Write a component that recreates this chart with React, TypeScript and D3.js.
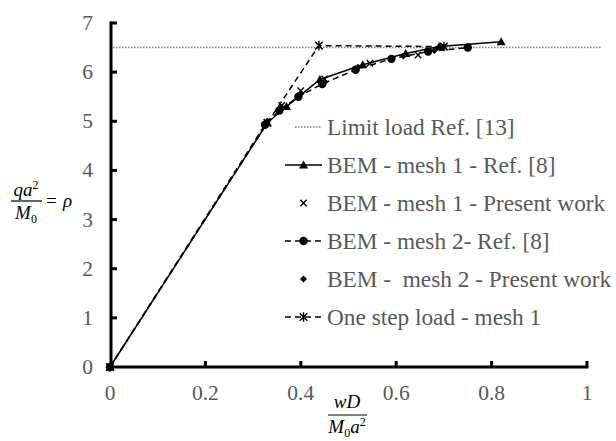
import React from "react";
import * as d3 from "d3";

const xTicks = [0, 0.2, 0.4, 0.6, 0.8, 1];
const yTicks = [0, 1, 2, 3, 4, 5, 6, 7];
const xTickLabels = ["0", "0.2", "0.4", "0.6", "0.8", "1"];

const limitX = [0, 1.03];
const limitY = [6.5, 6.5];

const mesh1RefX = [0, 0.33, 0.37, 0.44, 0.53, 0.62, 0.69, 0.82];
const mesh1RefY = [0, 4.97, 5.3, 5.85, 6.15, 6.38, 6.52, 6.62];

const mesh1PresX = [0.33, 0.36, 0.40, 0.45, 0.545, 0.646, 0.70];
const mesh1PresY = [4.97, 5.32, 5.62, 5.86, 6.18, 6.35, 6.52];

const mesh2RefX = [0, 0.325, 0.355, 0.395, 0.445, 0.515, 0.59, 0.667, 0.75];
const mesh2RefY = [0, 4.93, 5.22, 5.5, 5.76, 6.05, 6.27, 6.42, 6.5];

const mesh2PresX = [0.33, 0.36, 0.40, 0.45, 0.52, 0.615, 0.68];
const mesh2PresY = [5.0, 5.28, 5.56, 5.8, 6.1, 6.33, 6.44];

const oneStepX = [0, 0.33, 0.438, 0.70];
const oneStepY = [0, 4.97, 6.54, 6.52];

const legendLabels = [
  "Limit load Ref. [13]",
  "BEM - mesh 1 - Ref. [8]",
  "BEM - mesh 1 - Present work",
  "BEM - mesh 2- Ref. [8]",
  "BEM -  mesh 2 - Present work",
  "One step load - mesh 1",
];

const GRAY = "#595959";
const SERIF = "Liberation Serif, Times New Roman, Times, serif";

function zip(xs: number[], ys: number[]): [number, number][] {
  return xs.map((x, i) => [x, ys[i]]);
}

function Tri({ x, y }: { x: number; y: number }) {
  return <path d={`M${x},${y - 4.5}L${x + 4.5},${y + 3.5}L${x - 4.5},${y + 3.5}Z`} fill="#000" />;
}
function Cross({ x, y }: { x: number; y: number }) {
  const s = 3.2;
  return (
    <path d={`M${x - s},${y - s}L${x + s},${y + s}M${x - s},${y + s}L${x + s},${y - s}`} stroke="#000" strokeWidth={1.4} />
  );
}
function Dot({ x, y }: { x: number; y: number }) {
  return <circle cx={x} cy={y} r={4.2} fill="#000" />;
}
function Diamond({ x, y }: { x: number; y: number }) {
  const s = 3.5;
  return <path d={`M${x},${y - s}L${x + s},${y}L${x},${y + s}L${x - s},${y}Z`} fill="#000" />;
}
function Star({ x, y }: { x: number; y: number }) {
  const s = 3.8;
  return (
    <path
      d={`M${x - s},${y - s}L${x + s},${y + s}M${x - s},${y + s}L${x + s},${y - s}M${x},${y - s - 1}L${x},${y + s + 1}`}
      stroke="#000"
      strokeWidth={1.4}
    />
  );
}

export default function App() {
  const W = 616;
  const H = 441;
  const x = d3.scaleLinear().domain([0, 1]).range([110, 587]);
  const y = d3.scaleLinear().domain([0, 7]).range([367, 23]);
  const line = d3
    .line<[number, number]>()
    .x((d) => x(d[0]))
    .y((d) => y(d[1]));

  const legX0 = 285;
  const legX1 = 322;
  const legTextX = 327;
  const legY0 = 127;
  const legDy = 38;

  return (
    <svg width={W} height={H} style={{ position: "absolute", left: 0, top: 0, background: "#fff" }}>
      <rect width={W} height={H} fill="#fff" />
      {/* limit load */}
      <path d={line(zip(limitX, limitY)) || ""} fill="none" stroke="#7f7f7f" strokeWidth={1.5} strokeDasharray="1.5,1.5" />

      {/* one step */}
      <path d={line(zip(oneStepX, oneStepY)) || ""} fill="none" stroke="#000" strokeWidth={1.5} strokeDasharray="6,4" />
      {zip(oneStepX, oneStepY).map((d, i) => (
        <Star key={"s" + i} x={x(d[0])} y={y(d[1])} />
      ))}

      {/* mesh 2 ref */}
      <path d={line(zip(mesh2RefX, mesh2RefY)) || ""} fill="none" stroke="#000" strokeWidth={1.5} strokeDasharray="6,4" />
      {zip(mesh2RefX, mesh2RefY).map((d, i) => (
        <Dot key={"c" + i} x={x(d[0])} y={y(d[1])} />
      ))}

      {/* mesh 1 ref */}
      <path d={line(zip(mesh1RefX, mesh1RefY)) || ""} fill="none" stroke="#000" strokeWidth={1.5} />
      {zip(mesh1RefX, mesh1RefY).map((d, i) => (
        <Tri key={"t" + i} x={x(d[0])} y={y(d[1])} />
      ))}

      {zip(mesh1PresX, mesh1PresY).map((d, i) => (
        <Cross key={"x" + i} x={x(d[0])} y={y(d[1])} />
      ))}
      {zip(mesh2PresX, mesh2PresY).map((d, i) => (
        <Diamond key={"d" + i} x={x(d[0])} y={y(d[1])} />
      ))}

      {/* axes */}
      <line x1={x(0)} x2={x(1) + 1.5} y1={y(0)} y2={y(0)} stroke="#000" strokeWidth={3} />
      <line x1={x(0) + 1} x2={x(0) + 1} y1={y(0) + 1.5} y2={y(7) - 1.5} stroke="#000" strokeWidth={3} />
      {xTicks.map((t, i) => (
        <g key={"xt" + i}>
          {i > 0 && <line x1={x(t)} x2={x(t)} y1={y(0)} y2={y(0) - 6} stroke="#000" strokeWidth={3} />}
          <text x={x(t)} y={y(0) + 33} fontSize={21.5} fill={GRAY} textAnchor="middle" style={{ fontFamily: SERIF }}>
            {xTickLabels[i]}
          </text>
        </g>
      ))}
      {yTicks.map((t, i) => (
        <g key={"yt" + i}>
          {i > 0 && <line x1={x(0)} x2={x(0) + 7} y1={y(t)} y2={y(t)} stroke="#000" strokeWidth={3} />}
          <text x={93} y={y(t) + 7} fontSize={21.5} fill={GRAY} textAnchor="end" style={{ fontFamily: SERIF }}>
            {t}
          </text>
        </g>
      ))}

      {/* y axis label */}
      <g style={{ fontFamily: SERIF }} fontStyle="italic" fill="#000">
        <text x={26} y={196} fontSize={19} textAnchor="middle">
          qa<tspan dy={-7} fontSize={12} fontStyle="normal">2</tspan>
        </text>
        <line x1={11} x2={42} y1={201} y2={201} stroke="#000" strokeWidth={1.2} />
        <text x={26} y={219} fontSize={19} textAnchor="middle">
          M<tspan dy={4} fontSize={12} fontStyle="normal">0</tspan>
        </text>
        <text x={46} y={207} fontSize={19} fontStyle="normal">=</text>
        <text x={63} y={207} fontSize={19}>ρ</text>
      </g>

      {/* x axis label */}
      <g style={{ fontFamily: SERIF }} fontStyle="italic" fill="#000">
        <text x={347} y={408} fontSize={19} textAnchor="middle">wD</text>
        <line x1={328} x2={367} y1={415} y2={415} stroke="#000" strokeWidth={1.2} />
        <text x={347} y={433} fontSize={19} textAnchor="middle">
          M<tspan dy={4} fontSize={12} fontStyle="normal">0</tspan>
          <tspan dy={-4}>a</tspan>
          <tspan dy={-7} fontSize={12} fontStyle="normal">2</tspan>
        </text>
      </g>

      {/* legend */}
      {legendLabels.map((lab, i) => {
        const ly = legY0 + i * legDy;
        const mx = (legX0 + legX1) / 2;
        return (
          <g key={"lg" + i}>
            {i === 0 && (
              <line x1={legX0 + 10} x2={legX1} y1={ly} y2={ly} stroke="#7f7f7f" strokeWidth={1.5} strokeDasharray="1.5,1.5" />
            )}
            {i === 1 && (
              <>
                <line x1={legX0} x2={legX1} y1={ly} y2={ly} stroke="#000" strokeWidth={1.5} />
                <Tri x={mx} y={ly} />
              </>
            )}
            {i === 2 && <Cross x={mx} y={ly} />}
            {i === 3 && (
              <>
                <line x1={legX0} x2={legX1} y1={ly} y2={ly} stroke="#000" strokeWidth={1.5} strokeDasharray="6,4" />
                <Dot x={mx} y={ly} />
              </>
            )}
            {i === 4 && <Diamond x={mx} y={ly} />}
            {i === 5 && (
              <>
                <line x1={legX0} x2={legX1} y1={ly} y2={ly} stroke="#000" strokeWidth={1.5} strokeDasharray="6,4" />
                <Star x={mx} y={ly} />
              </>
            )}
            <text
              x={legTextX}
              y={ly + 7.5}
              fontSize={23.3}
              fill={GRAY}
              style={{ fontFamily: SERIF, whiteSpace: "pre" }}
            >
              {lab}
            </text>
          </g>
        );
      })}
    </svg>
  );
}
